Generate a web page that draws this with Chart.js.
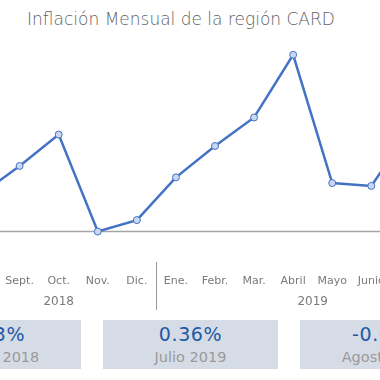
<!DOCTYPE html>
<html>
<head>
<meta charset="utf-8">
<script src="https://cdn.jsdelivr.net/npm/chart.js@4/dist/chart.umd.min.js"></script>
<style>
  html, body { margin:0; padding:0; background:#fff; }
  #wrap { position:relative; width:380px; height:380px; overflow:hidden; background:#fff; font-family:"DejaVu Sans", sans-serif; }
  #title { position:absolute; left:0; width:362px; top:9px; text-align:center; font-size:17px; color:#626262; font-weight:200; white-space:nowrap; }
  #cv { position:absolute; left:-39px; top:0; }
  .box { position:absolute; top:320px; height:49px; width:175px; background:#d6dce5; text-align:center; }
  .box .v { position:absolute; left:0; right:0; top:3px; font-size:19px; letter-spacing:0.6px; color:#2159a8; white-space:nowrap; }
  .box .l { position:absolute; left:0; right:0; top:29px; font-size:14.5px; color:#9a9a9a; white-space:nowrap; }
</style>
</head>
<body>
<div id="wrap">
  <div id="title">Inflación Mensual de la región CARD</div>
  <canvas id="cv" width="508" height="320"></canvas>
  <div id="boxes"></div>
</div>
<script>
const months = ['Ago.','Sept.','Oct.','Nov.','Dic.','Ene.','Febr.','Mar.','Abril','Mayo','Junio','Julio','Ago.'];
const inflation = [0.13, 0.23, 0.34, 0.00, 0.04, 0.19, 0.30, 0.40, 0.62, 0.17, 0.16, 0.36, -0.05];
const years = ['2018','2019'];
const yearStart = [0, 5];
const yearEnd = [4, 12];
const boxValues = ['0.13%','0.36%','-0.05%'];
const boxLabels = ['Agosto 2018','Julio 2019','Agosto 2019'];
const boxLeft = [-94, 103, 300];

const boxes = document.getElementById('boxes');
boxValues.forEach((v,i)=>{
  const d = document.createElement('div');
  d.className = 'box';
  d.style.left = boxLeft[i] + 'px';
  d.innerHTML = '<div class="v"></div><div class="l"></div>';
  d.querySelector('.v').textContent = v;
  d.querySelector('.l').textContent = boxLabels[i];
  boxes.appendChild(d);
});

const extras = {
  id:'extras',
  beforeDatasetsDraw(chart){
    const ctx = chart.ctx, y = chart.scales.y;
    const y0 = y.getPixelForValue(0);
    ctx.save();
    ctx.strokeStyle = '#a6a6a6';
    ctx.lineWidth = 1.5;
    ctx.beginPath();
    ctx.moveTo(0, y0); ctx.lineTo(chart.width, y0);
    ctx.stroke();
    ctx.restore();
  },
  afterDraw(chart){
    const ctx = chart.ctx, x = chart.scales.x;
    ctx.save();
    ctx.fillStyle = '#7a7a7a';
    ctx.font = '12px "DejaVu Sans"';
    ctx.textAlign = 'center';
    ctx.textBaseline = 'middle';
    years.forEach((yr,i)=>{
      const cx = (x.getPixelForValue(yearStart[i]) + x.getPixelForValue(yearEnd[i]))/2;
      ctx.fillText(yr, cx, 302);
    });
    ctx.strokeStyle = '#9a9a9a';
    ctx.lineWidth = 1;
    for (let i=1;i<yearStart.length;i++){
      const sx = Math.round((x.getPixelForValue(yearStart[i]-1) + x.getPixelForValue(yearStart[i]))/2) + 0.5;
      ctx.beginPath();
      ctx.moveTo(sx, 262); ctx.lineTo(sx, 310);
      ctx.stroke();
    }
    ctx.restore();
  }
};

new Chart(document.getElementById('cv'), {
  type:'line',
  data:{
    labels: months,
    datasets:[{
      data: inflation,
      borderColor:'#4472c4',
      borderWidth:2.5,
      backgroundColor:'#c9d7f0',
      pointBackgroundColor:'#c9d7f0',
      pointBorderColor:'#4472c4',
      pointBorderWidth:1,
      pointRadius:3.5,
      tension:0,
      fill:false,
      clip:false
    }]
  },
  options:{
    responsive:false,
    animation:false,
    devicePixelRatio:1,
    layout:{ autoPadding:false, padding:{ top:32, left:0, right:0, bottom:0 } },
    plugins:{ legend:{display:false}, tooltip:{enabled:false}, title:{display:false} },
    scales:{
      x:{
        offset:true,
        grid:{ display:false },
        border:{ display:false },
        ticks:{ color:'#7a7a7a', font:{ family:'DejaVu Sans', size:11 }, padding:7, maxRotation:0, autoSkip:false },
        afterFit(s){ s.height = 60; }
      },
      y:{ display:false, min:-0.1, max:0.7 }
    }
  },
  plugins:[extras]
});
</script>
</body>
</html>
